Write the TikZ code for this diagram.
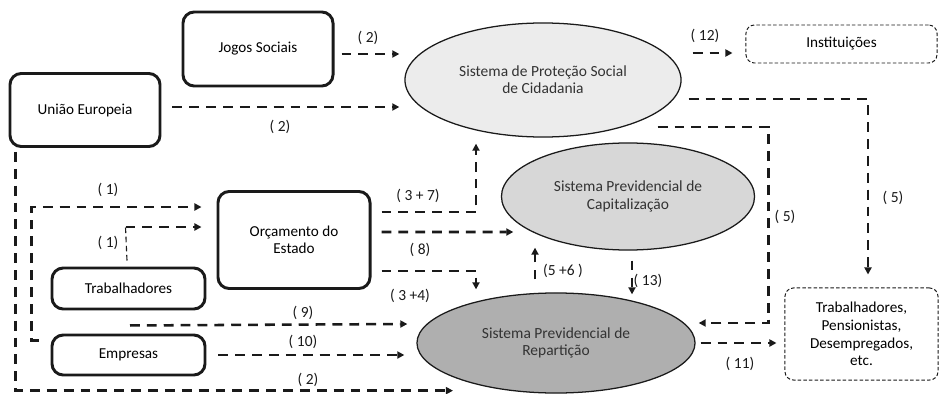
\documentclass[tikz,border=0pt]{standalone}
\usepackage{fontspec}
\setmainfont{Carlito}
\usepackage{xcolor}
\usepackage{tikz}
\usetikzlibrary{calc,arrows.meta,shapes.geometric}
\definecolor{ink}{HTML}{1A1A1A}
\definecolor{softtext}{HTML}{333333}
\definecolor{protfill}{HTML}{ECECEC}
\definecolor{capfill}{HTML}{D7D7D7}
\definecolor{repfill}{HTML}{AFAFAF}
\tikzset{
  box/.style={draw=ink, line width=2.1pt, rounded corners=8pt, align=center, inner sep=2pt, font=\fontsize{10.8}{12.4}\selectfont},
  softbox/.style={draw=ink, dash pattern=on 2.5pt off 1.5pt, line width=0.7pt, rounded corners=6pt, align=center, font=\fontsize{10.8}{12.6}\selectfont},
  sys/.style={ellipse, draw=ink, line width=0.9pt, inner sep=0pt, align=center, text=softtext, font=\fontsize{11}{12.2}\selectfont},
  flow/.style={draw=ink, line width=1.8pt, dash pattern=on 7pt off 5pt, -{Triangle[length=5pt,width=5pt]}},
  thinlink/.style={draw=ink, line width=0.8pt, dash pattern=on 4pt off 2.5pt},
  lab/.style={text=ink, font=\fontsize{11}{12}\selectfont, inner sep=1pt},
}

\begin{document}
\begin{tikzpicture}[x=0.025cm, y=-0.025cm]
  \useasboundingbox (0,0) rectangle (940,394);
  \fill[white] (0,0) rectangle (940,394);

  \node[box, minimum width=3.75cm, minimum height=1.825cm] (ue) at (85,110) {União Europeia};
  \node[box, minimum width=3.75cm, minimum height=1.85cm] (jogos) at (258,49) {Jogos Sociais};
  \node[box, minimum width=3.8cm, minimum height=2.425cm] (orc) at (294,240) {Orçamento do\\Estado};
  \node[box, minimum width=3.825cm, minimum height=1.025cm] (trab) at (128.5,288.5) {Trabalhadores};
  \node[box, minimum width=3.825cm, minimum height=1cm] (emp) at (128.5,355) {Empresas};
  \node[softbox, minimum width=4.775cm, minimum height=0.95cm] (inst) at (841.5,44) {Instituições};
  \node[softbox, minimum width=3.825cm, minimum height=2.3cm] (benef) at (861.5,334) {Trabalhadores,\\Pensionistas,\\Desempregados,\\etc.};
  \node[sys, fill=protfill, minimum width=6.9cm, minimum height=2.85cm] (prot) at (543,80) {Sistema de Proteção Social\\de Cidadania};
  \node[sys, fill=capfill, minimum width=6.325cm, minimum height=2.675cm] (cap) at (628,196.5) {Sistema Previdencial de\\Capitalização};
  \node[sys, fill=repfill, minimum width=6.95cm, minimum height=2.5cm] (rep) at (556,343) {Sistema Previdencial de\\Repartição};

  \draw[flow] ($(jogos.east)+(7,5)$) -- ($(prot.west)+(-5,-26)$);
  \draw[flow] ($(ue.east)+(11,-3)$) -- ($(prot.west)+(-5,27)$);
  \draw[flow] ($(prot.east)+(11,-27)$) -- ($(inst.west)+(-13,9)$);
  \draw[flow] ($(prot.east)+(7,19)$) -| ($(benef.north)+(6.5,-13)$);
  \draw[flow] ($(prot.east)+(-24,47)$) -- ($(prot.east)+(87,47)$) |- ($(rep.east)+(3,-20)$);
  \draw[flow] ($(orc.east)+(10,-28)$) -| ($(prot.south)+(-67,6)$);
  \draw[flow] ($(orc.east)+(10,-8)$) -- ($(cap.west)+(12.5,35.5)$);
  \draw[flow] ($(orc.east)+(10,31)$) -| ($(rep.north)+(-80,-3)$);
  \draw[flow] ($(rep.north)+(-21,-13)$) -- ($(cap.south)+(-93,-3)$);
  \draw[flow] ($(cap.south)+(4,10)$) -- ($(rep.north)+(76,2)$);
  \draw[flow] ($(emp.north west)+(-12,7)$) -- ++(-7,0) |- ($(orc.west)+(-15,-33)$);
  \coordinate (bend) at ($(orc.west)+(-91,-13)$);
  \draw[thinlink] ($(trab.north)+(-1.5,-6)$) -- (bend);
  \draw[flow] (bend) -- ($(orc.west)+(-15,-13)$);
  \draw[flow] ($(ue.south west)+(7,4)$) |- ($(rep.south)+(-103,-3)$);
  \draw[flow] ($(trab.south)+(1.5,15)$) -- ($(rep.west)+(-9,-19)$);
  \draw[flow] ($(emp.east)+(12,0)$) -- ($(rep.west)+(-12,12)$);
  \draw[flow] ($(rep.east)+(5,0)$) -- ($(benef.west)+(-8,9)$);

  \node[lab] (l2a) at (368,38) {( 2)};
  \node[lab] (l2b) at (280,127) {( 2)};
  \node[lab] (l12) at (705,36) {( 12)};
  \node[lab] (l5a) at (893,198) {( 5)};
  \node[lab] (l5b) at (785,217) {( 5)};
  \node[lab] (l37) at (418,196) {( 3 + 7)};
  \node[lab] (l8) at (420,250) {( 8)};
  \node[lab] (l34) at (410,296) {( 3 +4)};
  \node[lab] (l56) at (563,271) {(5 +6 )};
  \node[lab] (l13) at (648,281) {( 13)};
  \node[lab] (l1a) at (108,190) {( 1)};
  \node[lab] (l1b) at (108,243) {( 1)};
  \node[lab] (l9) at (303,313) {( 9)};
  \node[lab] (l10) at (303,342) {( 10)};
  \node[lab] (l2c) at (308,380) {( 2)};
  \node[lab] (l11) at (740,364) {( 11)};
\end{tikzpicture}
\end{document}
